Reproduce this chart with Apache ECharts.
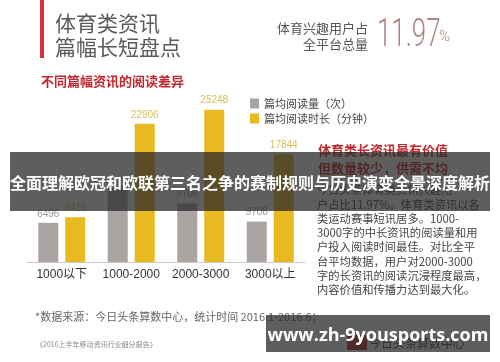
<!DOCTYPE html>
<html><head><meta charset="utf-8">
<script src="https://cdn.jsdelivr.net/npm/echarts@6/dist/echarts.min.js"></script>
<style>html,body{margin:0;padding:0;background:#fff}#c{width:500px;height:362px}</style>
</head><body><div id="c"></div>
<script>
var categories = ['1000以下', '1000-2000', '2000-3000', '3000以上'];
var seriesNames = ['篇均阅读量（次）', '篇均阅读时长（分钟）'];
var readCounts = [6496, 12600, 9708, 6700];
var readCountLabels = ['6496', '', '9708', '9708'];
var readTimes = [7415, 22906, 25248, 17844];
var readTimeLabels = ['7415', '22906', '25248', '17844'];
var paragraph = [
  '今日头条体育类资讯兴趣用',
  '户占比11.97%。体育类资讯以各',
  '类运动赛事短讯居多。1000-',
  '3000字的中长资讯的阅读量和用',
  '户投入阅读时间最佳。对比全平',
  '台平均数据，用户对2000-3000',
  '字的长资讯的阅读沉浸程度最高，',
  '内容价值和传播力达到最大化。'
];

var CJK = '"Noto Sans CJK SC","Noto Sans",sans-serif';
var chart = echarts.init(document.getElementById('c'));

var graphics = [
  {type:'rect', shape:{x:40,y:0,width:4,height:58}, style:{fill:'#d9303e'}},
  {type:'text', x:55, y:23, style:{text:'体育类资讯', font:'21px '+CJK, fill:'#5a5a5a', textVerticalAlign:'middle'}},
  {type:'text', x:55, y:47, style:{text:'篇幅长短盘点', font:'21px '+CJK, fill:'#5a5a5a', textVerticalAlign:'middle'}},
  {type:'text', x:41, y:81, style:{text:'不同篇幅资讯的阅读差异', font:'bold 13px '+CJK, fill:'#c1272d', textVerticalAlign:'middle'}},
  {type:'text', x:368, y:28, style:{text:'体育兴趣用户占', font:'13px '+CJK, fill:'#555', textAlign:'right', textVerticalAlign:'middle'}},
  {type:'text', x:368, y:44, style:{text:'全平台总量', font:'13px '+CJK, fill:'#555', textAlign:'right', textVerticalAlign:'middle'}},
  {type:'text', x:377, y:36, scaleX:0.68, style:{text:'11.97', font:'300 38px Roboto,sans-serif', fill:'#ad8585', textVerticalAlign:'middle'}},
  {type:'text', x:439, y:37, style:{text:'%', font:'300 15px Roboto,sans-serif', fill:'#ad8585', textVerticalAlign:'middle'}},
  {type:'text', x:318, y:150, style:{text:'体育类长资讯最有价值', font:'bold 13px '+CJK, fill:'#c1272d', textVerticalAlign:'middle'}},
  {type:'text', x:318, y:168, style:{text:'但数量较少，供需不均', font:'bold 13px '+CJK, fill:'#c1272d', textVerticalAlign:'middle'}},
  {type:'text', x:35, y:317, style:{text:'*数据来源：今日头条算数中心，统计时间 2016.1-2016.6；', font:'11px '+CJK, fill:'#666', textVerticalAlign:'middle'}},
  {type:'text', x:36, y:344, style:{text:'《2016上半年移动资讯行业细分报告》', font:'7px '+CJK, fill:'#888', textVerticalAlign:'middle'}},
  {type:'rect', shape:{x:347,y:335,width:20,height:15}, style:{fill:'#c8282e'}},
  {type:'text', x:369, y:343, style:{text:'今日头条算数中心', font:'12px '+CJK, fill:'#444', textVerticalAlign:'middle'}},
  {type:'rect', z:100, shape:{x:10,y:152,width:480,height:59}, style:{fill:'rgba(40,40,40,0.75)'}},
  {type:'text', z:101, x:250, y:183, style:{text:'全面理解欧冠和欧联第三名之争的赛制规则与历史演变全景深度解析', font:'bold 16px '+CJK, fill:'#fff', textAlign:'center', textVerticalAlign:'middle'}},
  {type:'rect', z:100, shape:{x:266,y:315,width:224,height:37}, style:{fill:'rgba(40,40,40,0.75)'}},
  {type:'text', z:101, x:378, y:336, style:{text:'www.zh-9yousports.com', font:'bold 18px "Open Sans","Noto Sans",sans-serif', fill:'#fff', textAlign:'center', textVerticalAlign:'middle'}}
];
paragraph.forEach(function(t, i){
  graphics.push({type:'text', x:317, y:190 + i*14.3, style:{text:t, font:'11.3px '+CJK, fill:'#444', textVerticalAlign:'middle'}});
});

chart.setOption({
  animation:false,
  backgroundColor:'#fff',
  legend:{
    orient:'vertical', left:245, top:93, itemWidth:9, itemHeight:10, itemGap:4,
    icon:'rect', data:seriesNames,
    textStyle:{fontSize:11, color:'#444', fontFamily:'Noto Sans CJK SC'}
  },
  grid:{left:27, right:195, top:81, bottom:100},
  xAxis:{
    type:'category', data:categories,
    axisLine:{lineStyle:{color:'#c8c8c8'}},
    axisTick:{show:false},
    axisLabel:{interval:0, fontSize:12, color:'#333', margin:7, fontFamily:'Liberation Sans, Noto Sans CJK SC'}
  },
  yAxis:{type:'value', min:0, max:30000, show:false, splitLine:{show:false}},
  series:[
    {name:seriesNames[0], type:'bar', data:readCounts, barWidth:20, barGap:'35%',
     itemStyle:{color:'#aaa5a2'},
     label:{show:true, position:'top', distance:4, fontSize:10, color:'#9a9a9a', fontFamily:'Liberation Sans',
       formatter:function(p){return readCountLabels[p.dataIndex];}}},
    {name:seriesNames[1], type:'bar', data:readTimes, barWidth:20,
     itemStyle:{color:'#e9b922'},
     label:{show:true, position:'top', distance:4, fontSize:10, color:'#d6be5c', fontFamily:'Liberation Sans',
       formatter:function(p){return readTimeLabels[p.dataIndex];}}}
  ],
  graphic:graphics
});
</script></body></html>
